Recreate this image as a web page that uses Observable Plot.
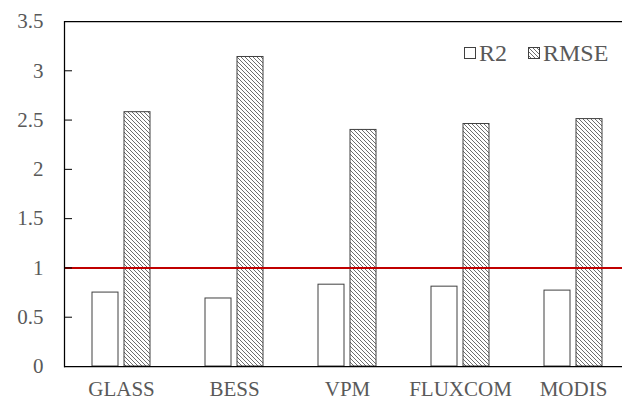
<!DOCTYPE html>
<html>
<head>
<meta charset="utf-8">
<script src="https://cdn.jsdelivr.net/npm/d3@7"></script>
<script src="https://cdn.jsdelivr.net/npm/@observablehq/plot@0.6"></script>
<style>
  html, body { margin: 0; padding: 0; background: white; }
  #wrap { position: relative; width: 622px; height: 401px; }
  #legend { position: absolute; left: 464px; top: 40px; display: flex; align-items: center;
            font-family: "Liberation Serif", serif; font-size: 24px; line-height: 26px; color: #595959; white-space: nowrap; }
  #legend svg { display: block; }
</style>
</head>
<body>
<div id="wrap"></div>
<script>
// ---- data ----
const categories = ["GLASS", "BESS", "VPM", "FLUXCOM", "MODIS"];
const r2 = [0.75, 0.69, 0.83, 0.81, 0.77];
const rmse = [2.58, 3.14, 2.40, 2.46, 2.51];
const series = ["R2", "RMSE"];
const yTicks = [0, 0.5, 1, 1.5, 2, 2.5, 3, 3.5];
const refLine = [1];

const rows = categories.map((c, i) => ({category: c, r2: r2[i], rmse: rmse[i]}));

const step = 113.2, bw = 26;
const pi = 1 - bw / step;

const chart = Plot.plot({
  width: 622,
  height: 401,
  marginLeft: 64,
  marginRight: 0,
  marginTop: 21,
  marginBottom: 35,
  style: {fontFamily: "Liberation Serif, serif", fontSize: "21px", background: "white", overflow: "visible"},
  x: {domain: categories, range: [64, 630], paddingInner: pi, paddingOuter: pi / 2, axis: null},
  y: {domain: [0, 3.5], axis: null},
  marks: [
    Plot.barY(rows, {x: "category", y: "r2", dx: -16, fill: "white", stroke: "#404040", strokeWidth: 1}),
    Plot.barY(rows, {x: "category", y: "rmse", dx: 16, fill: "url(#hatch)", stroke: "#404040", strokeWidth: 1}),
    Plot.ruleY(refLine, {stroke: "#c00000", strokeWidth: 2}),
    Plot.ruleY([yTicks[0], yTicks[yTicks.length - 1]], {stroke: "black", strokeWidth: 1.25}),
    Plot.frame({anchor: "left", stroke: "black", strokeWidth: 1.25}),
    Plot.axisY(yTicks, {anchor: "left", tickSize: -8, tickPadding: 29, stroke: "black", fill: "#595959",
      tickFormat: d => String(d), label: null, fontSize: 21}),
    Plot.axisX({anchor: "bottom", tickSize: 0, tickPadding: 15, fill: "#595959", label: null, fontSize: 21})
  ]
});

const ns = "http://www.w3.org/2000/svg";
const defs = document.createElementNS(ns, "defs");
defs.innerHTML = `<pattern id="hatch" width="4" height="4" patternUnits="userSpaceOnUse">
  <rect width="4" height="4" fill="white"/>
  <path d="M-1,-1 L5,5 M-1,3 L1,5 M3,-1 L5,1" stroke="#6e6e6e" stroke-width="1"/>
</pattern>`;
chart.insertBefore(defs, chart.firstChild);

const wrap = document.getElementById("wrap");
wrap.appendChild(chart);

// legend inside plot area
const legend = document.createElement("div");
legend.id = "legend";
series.forEach((s, i) => {
  const sw = document.createElementNS(ns, "svg");
  sw.setAttribute("width", 12);
  sw.setAttribute("height", 12);
  sw.style.marginLeft = i === 0 ? "0px" : "21px";
  sw.innerHTML = i === 0
    ? `<rect x="0.5" y="0.5" width="11" height="11" fill="white" stroke="#404040"/>`
    : `<defs><pattern id="hatchL" width="4" height="4" patternUnits="userSpaceOnUse"><rect width="4" height="4" fill="white"/><path d="M-1,-1 L5,5 M-1,3 L1,5 M3,-1 L5,1" stroke="#6e6e6e" stroke-width="1"/></pattern></defs><rect x="0.5" y="0.5" width="11" height="11" fill="url(#hatchL)" stroke="#404040"/>`;
  legend.appendChild(sw);
  const t = document.createElement("span");
  t.textContent = s;
  t.style.marginLeft = "3px";
  legend.appendChild(t);
});
wrap.appendChild(legend);
</script>
</body>
</html>
